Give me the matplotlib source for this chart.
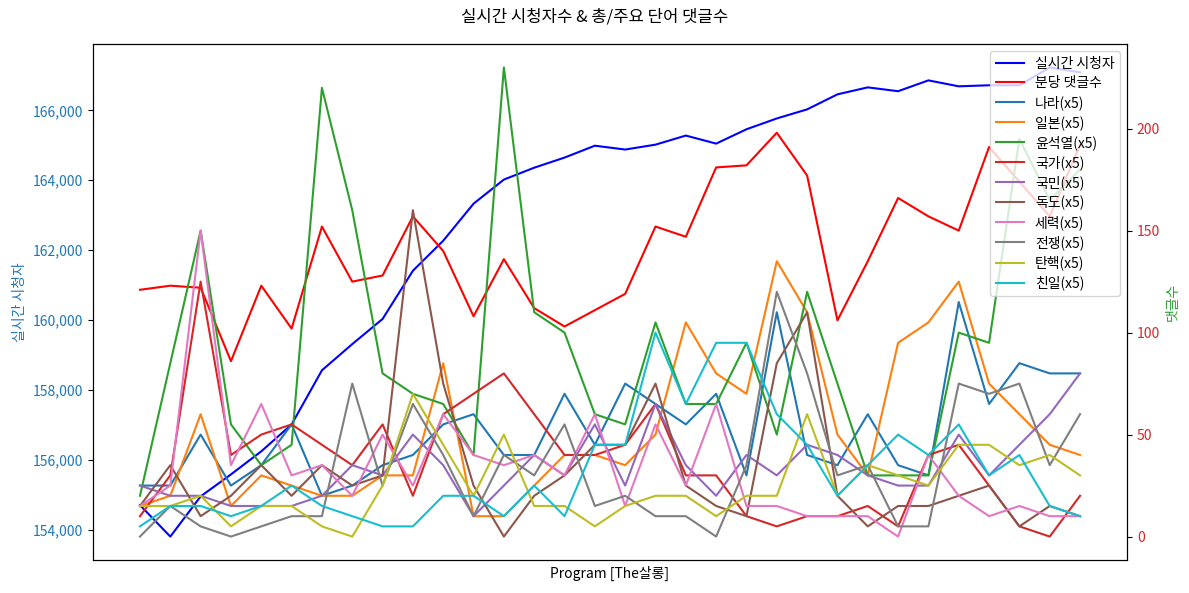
import matplotlib
matplotlib.use("Agg")
import matplotlib.pyplot as plt
from matplotlib.ticker import StrMethodFormatter

plt.rcParams['font.family'] = ['Noto Sans CJK KR', 'DejaVu Sans']
plt.rcParams['axes.unicode_minus'] = False

# 실시간 시청자 / 분당 댓글수
viewers = [154700, 153800, 154950, 155580, 156240, 157010, 158560, 159310,
           160030, 161410, 162270, 163330, 164020, 164360, 164650, 164990,
           164880, 165020, 165280, 165050, 165460, 165770, 166030, 166460,
           166660, 166550, 166860, 166690, 166720, 166720, 167230, 167090]
comments = [121, 123, 122, 86, 123, 102, 152, 125, 128, 157, 140, 108, 136, 112, 103, 111,
            119, 152, 147, 181, 182, 198, 177, 106, 135, 166, 157, 150, 191, 174, 157, 192]

# 주요 단어 댓글수 (x5)
words = ['나라', '일본', '윤석열', '국가', '국민', '독도', '세력', '전쟁', '탄핵', '친일']
nara = [25, 25, 50, 25, 35, 55, 20, 25, 35, 40, 55, 60, 40, 40, 70, 45,
        75, 65, 55, 70, 30, 110, 40, 35, 60, 35, 30, 115, 65, 85, 80, 80]
ilbon = [15, 20, 60, 15, 30, 25, 20, 20, 30, 30, 85, 10, 10, 25, 40, 40,
         35, 50, 105, 80, 70, 135, 110, 50, 30, 95, 105, 125, 75, 60, 45, 40]
yoon = [20, 85, 150, 55, 35, 45, 220, 160, 80, 70, 65, 40, 230, 110, 100, 60,
        55, 105, 65, 65, 95, 50, 120, 75, 30, 30, 30, 100, 95, 195, 165, 180]
gukga = [10, 30, 125, 40, 50, 55, 45, 35, 55, 20, 60, 70, 80, 60, 40, 40,
         45, 65, 30, 30, 10, 5, 10, 10, 15, 5, 40, 45, 25, 5, 0, 20]
gukmin = [25, 20, 20, 15, 15, 15, 20, 35, 30, 50, 35, 10, 25, 40, 30, 55,
          25, 65, 35, 20, 40, 30, 45, 40, 30, 25, 25, 50, 30, 45, 60, 80]
dokdo = [15, 35, 10, 20, 35, 20, 35, 25, 30, 160, 75, 25, 0, 20, 30, 45,
         45, 75, 25, 15, 10, 85, 110, 20, 5, 15, 15, 20, 25, 5, 15, 10]
seryeok = [15, 25, 150, 35, 65, 30, 35, 20, 50, 25, 60, 40, 35, 40, 30, 60,
           15, 55, 25, 65, 15, 15, 10, 10, 10, 0, 40, 20, 10, 15, 10, 10]
jeonjaeng = [0, 15, 5, 0, 5, 10, 10, 75, 25, 65, 40, 10, 40, 30, 55, 15,
             20, 10, 10, 0, 35, 120, 80, 30, 35, 5, 5, 75, 70, 75, 35, 60]
tanhaek = [15, 15, 20, 5, 15, 15, 5, 0, 25, 70, 45, 20, 50, 15, 15, 5,
           15, 20, 20, 10, 20, 20, 60, 20, 35, 30, 25, 45, 45, 35, 40, 30]
chinil = [5, 15, 15, 10, 15, 25, 15, 10, 5, 5, 20, 20, 10, 25, 10, 45,
          45, 100, 65, 95, 95, 60, 45, 20, 35, 50, 40, 55, 30, 40, 15, 10]
word_series = [nara, ilbon, yoon, gukga, gukmin, dokdo, seryeok, jeonjaeng, tanhaek, chinil]
word_colors = ['tab:blue', 'tab:orange', 'tab:green', 'tab:red', 'tab:purple',
               'tab:brown', 'tab:pink', 'tab:gray', 'tab:olive', 'tab:cyan']

x = list(range(len(viewers)))

fig, ax1 = plt.subplots(figsize=(11.89, 5.93), dpi=100)
fig.subplots_adjust(left=0.0782, right=0.9479, top=0.9258, bottom=0.0556)

l1, = ax1.plot(x, viewers, color='blue', label='실시간 시청자')
ax1.set_ylabel('실시간 시청자', color='tab:blue', fontsize=10)
ax1.tick_params(axis='y', labelcolor='tab:blue', labelsize=10)
ax1.yaxis.set_major_formatter(StrMethodFormatter('{x:,.0f}'))
ax1.set_xlabel('Program [The살롱]', fontsize=10)
ax1.set_xticks([])

ax2 = ax1.twinx()
lines = [l1]
l2, = ax2.plot(x, comments, color='red', label='분당 댓글수')
lines.append(l2)
for name, vals, c in zip(words, word_series, word_colors):
    ln, = ax2.plot(x, vals, color=c, label=f'{name}(x5)')
    lines.append(ln)
ax2.set_ylabel('댓글수', color='tab:green', fontsize=10)
ax2.tick_params(axis='y', labelcolor='tab:red', labelsize=10)

ax2.legend(lines, [l.get_label() for l in lines], loc='upper right',
           fontsize=10, labelspacing=0.38)

fig.suptitle('실시간 시청자수 & 총/주요 단어 댓글수', fontsize=12, y=0.985)

plt.savefig('out.png')
